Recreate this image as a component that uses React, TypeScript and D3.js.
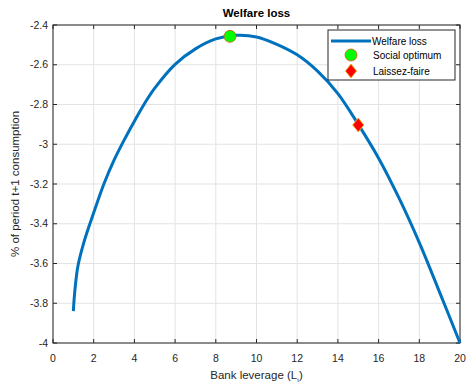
import React, { useRef, useEffect } from 'react';
import * as d3 from 'd3';

// welfare loss curve
const leverage = [1.0, 1.03, 1.1, 1.23, 1.5, 1.78, 2, 2.5, 3, 3.5, 4, 4.5, 5, 6, 7, 8, 9, 10, 11, 12, 13, 14, 15, 16, 17, 18, 19, 20];
const welfare = [-3.84, -3.79, -3.71, -3.61, -3.5, -3.41, -3.345, -3.2, -3.08, -2.978, -2.884, -2.795, -2.718, -2.598, -2.52, -2.47, -2.452, -2.46, -2.497, -2.55, -2.632, -2.745, -2.9, -3.07, -3.27, -3.495, -3.745, -4.0];

const optimum = { x: 8.7, y: -2.457 };
const laissez = { x: 15, y: -2.903 };

const xTicks = [0, 2, 4, 6, 8, 10, 12, 14, 16, 18, 20];
const yTicks = [-2.4, -2.6, -2.8, -3, -3.2, -3.4, -3.6, -3.8, -4];

const legendLabels = ['Welfare loss', 'Social optimum', 'Laissez-faire'];

function App() {
  const ref = useRef<SVGSVGElement>(null);

  useEffect(() => {
    const svg = d3.select(ref.current);
    svg.selectAll('*').remove();

    const W = 467, H = 384;
    const left = 53, right = 460, top = 25, bottom = 343;
    const font = '"Liberation Sans", Arial, Helvetica, sans-serif';
    const axisColor = '#262626';

    svg.append('rect').attr('width', W).attr('height', H).attr('fill', '#fff');

    const x = d3.scaleLinear().domain([0, 20]).range([left, right]);
    const y = d3.scaleLinear().domain([-4, -2.4]).range([bottom, top]);

    // grid
    const grid = svg.append('g').attr('stroke', '#e3e3e3').attr('stroke-width', 1);
    xTicks.forEach(t => {
      grid.append('line').attr('x1', x(t)).attr('x2', x(t)).attr('y1', top).attr('y2', bottom);
    });
    yTicks.forEach(t => {
      grid.append('line').attr('x1', left).attr('x2', right).attr('y1', y(t)).attr('y2', y(t));
    });

    // box
    svg.append('rect')
      .attr('x', left).attr('y', top)
      .attr('width', right - left).attr('height', bottom - top)
      .attr('fill', 'none').attr('stroke', axisColor).attr('stroke-width', 1);

    // tick marks (inside, all four sides)
    const tk = 4;
    const ticks = svg.append('g').attr('stroke', axisColor).attr('stroke-width', 1);
    xTicks.forEach(t => {
      ticks.append('line').attr('x1', x(t)).attr('x2', x(t)).attr('y1', bottom).attr('y2', bottom - tk);
      ticks.append('line').attr('x1', x(t)).attr('x2', x(t)).attr('y1', top).attr('y2', top + tk);
    });
    yTicks.forEach(t => {
      ticks.append('line').attr('x1', left).attr('x2', left + tk).attr('y1', y(t)).attr('y2', y(t));
      ticks.append('line').attr('x1', right).attr('x2', right - tk).attr('y1', y(t)).attr('y2', y(t));
    });

    // tick labels
    svg.append('g').selectAll('text').data(xTicks).enter().append('text')
      .attr('x', d => x(d)).attr('y', bottom + 19)
      .attr('text-anchor', 'middle')
      .attr('font-family', font).attr('font-size', 10.5).attr('fill', axisColor)
      .text(d => d);

    svg.append('g').selectAll('text').data(yTicks).enter().append('text')
      .attr('x', left - 5).attr('y', d => y(d)).attr('dy', '0.35em')
      .attr('text-anchor', 'end')
      .attr('font-family', font).attr('font-size', 10.5).attr('fill', axisColor)
      .text(d => d);

    // axis labels
    const xl = svg.append('text')
      .attr('x', (left + right) / 2).attr('y', 379)
      .attr('text-anchor', 'middle')
      .attr('font-family', font).attr('font-size', 11.5).attr('fill', axisColor);
    xl.append('tspan').text('Bank leverage (L');
    xl.append('tspan').attr('font-size', 6).attr('dy', 3).text('t');
    xl.append('tspan').attr('dy', -3).text(')');

    svg.append('text')
      .attr('transform', `translate(19,${(top + bottom) / 2}) rotate(-90)`)
      .attr('text-anchor', 'middle')
      .attr('font-family', font).attr('font-size', 11.5).attr('fill', axisColor)
      .text('% of period t+1 consumption');

    // title
    svg.append('text')
      .attr('x', (left + right) / 2).attr('y', 17)
      .attr('text-anchor', 'middle')
      .attr('font-family', font).attr('font-size', 11.5).attr('font-weight', 'bold')
      .attr('fill', '#000')
      .text('Welfare loss');

    // curve
    const pts = leverage.map((l, i) => [l, welfare[i]] as [number, number]);
    const line = d3.line<[number, number]>()
      .x(d => x(d[0])).y(d => y(d[1]))
      .curve(d3.curveCatmullRom.alpha(0.5));
    svg.append('path').datum(pts)
      .attr('d', line)
      .attr('fill', 'none').attr('stroke', '#0072BD').attr('stroke-width', 3);

    // markers
    const diamond = (cx: number, cy: number, r: number) =>
      `M${cx},${cy - r}L${cx + r * 0.8},${cy}L${cx},${cy + r}L${cx - r * 0.8},${cy}Z`;

    svg.append('circle')
      .attr('cx', x(optimum.x)).attr('cy', y(optimum.y)).attr('r', 6)
      .attr('fill', '#00ff00').attr('stroke', '#D95319').attr('stroke-width', 0.8);

    svg.append('path')
      .attr('d', diamond(x(laissez.x), y(laissez.y), 7))
      .attr('fill', '#ff0000').attr('stroke', '#EDB120').attr('stroke-width', 1);

    // legend
    const lx = 328, ly = 30, lw = 127, lh = 50;
    svg.append('rect')
      .attr('x', lx).attr('y', ly).attr('width', lw).attr('height', lh)
      .attr('fill', '#fff').attr('stroke', axisColor).attr('stroke-width', 1);

    const rows = [41, 55, 71];
    svg.append('line')
      .attr('x1', 331).attr('x2', 371).attr('y1', rows[0]).attr('y2', rows[0])
      .attr('stroke', '#0072BD').attr('stroke-width', 3);
    svg.append('circle')
      .attr('cx', 351).attr('cy', rows[1]).attr('r', 6)
      .attr('fill', '#00ff00').attr('stroke', '#D95319').attr('stroke-width', 0.8);
    svg.append('path')
      .attr('d', diamond(351, rows[2], 7))
      .attr('fill', '#ff0000').attr('stroke', '#EDB120').attr('stroke-width', 1);

    svg.append('g').selectAll('text').data(legendLabels).enter().append('text')
      .attr('x', (d, i) => (i === 0 ? 372 : 373)).attr('y', (d, i) => rows[i]).attr('dy', '0.35em')
      .attr('font-family', font).attr('font-size', 10).attr('fill', '#000')
      .text(d => d);
  }, []);

  return <svg ref={ref} width={467} height={384} style={{ position: 'absolute', left: 0, top: 0 }}></svg>;
}

export default App;
